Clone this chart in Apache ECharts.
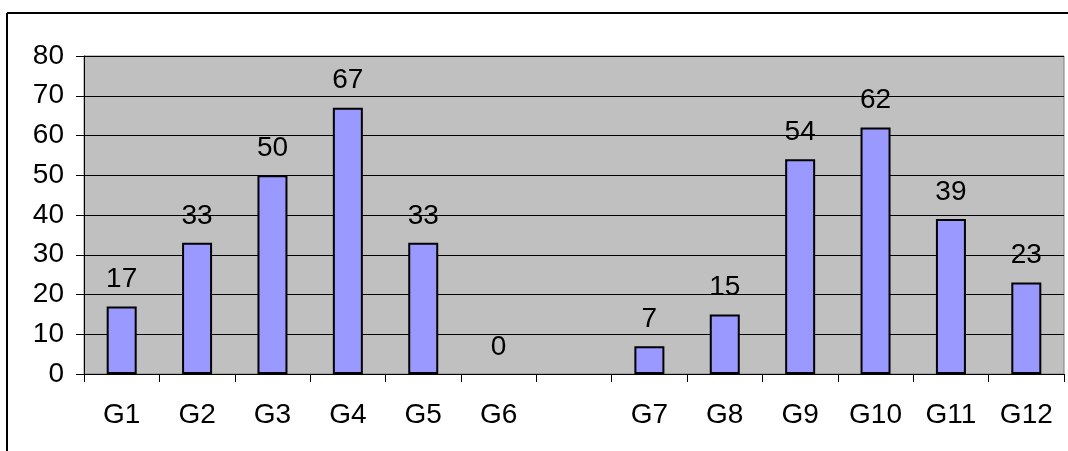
<!DOCTYPE html>
<html>
<head>
<meta charset="utf-8">
<title>G chart</title>
<style>
  * { margin: 0; padding: 0; }
  html, body { background: #fff; }
  #chart { width: 1068px; height: 451px; }
</style>
</head>
<body>
<div id="chart"></div>
<script src="https://cdn.jsdelivr.net/npm/echarts@6/dist/echarts.min.js"></script>
<script>
// categories (the empty one is the gap between G6 and G7)
const groups = ['G1', 'G2', 'G3', 'G4', 'G5', 'G6', '', 'G7', 'G8', 'G9', 'G10', 'G11', 'G12'];
const counts = [17, 33, 50, 67, 33, 0, '-', 7, 15, 54, 62, 39, 23];
const yTicks = [0, 10, 20, 30, 40, 50, 60, 70, 80];

const font = "'Liberation Sans', Arial, sans-serif";
const chart = echarts.init(document.getElementById('chart'), null, { renderer: 'canvas' });

// zero-height bars get no outline, like the original
const barData = counts.map(v => v === 0 ? { value: v, itemStyle: { borderWidth: 0 } } : v);

chart.setOption({
  animation: false,
  backgroundColor: '#fff',
  textStyle: { fontFamily: font, color: '#000' },
  grid: {
    left: 84, top: 56, right: 4, bottom: 77,
    show: true,
    backgroundColor: '#c0c0c0',
    borderColor: '#808080',
    borderWidth: 1
  },
  graphic: [
    { type: 'line', shape: { x1: 7, y1: 13, x2: 1068, y2: 13 }, style: { stroke: '#000', lineWidth: 2 } },
    { type: 'line', shape: { x1: 7, y1: 13, x2: 7, y2: 451 }, style: { stroke: '#000', lineWidth: 2 } }
  ],
  xAxis: {
    type: 'category',
    data: groups,
    boundaryGap: true,
    axisLine: { lineStyle: { color: '#000', width: 1 } },
    axisTick: { show: true, length: 8, lineStyle: { color: '#000' } },
    axisLabel: { fontSize: 28, color: '#000', margin: 27, fontFamily: font, interval: 0 },
    splitLine: { show: false }
  },
  yAxis: {
    type: 'value',
    min: yTicks[0],
    max: yTicks[yTicks.length - 1],
    interval: 10,
    axisLine: { show: true, lineStyle: { color: '#000', width: 1 } },
    axisTick: { show: true, length: 8, lineStyle: { color: '#000' } },
    axisLabel: { fontSize: 28, color: '#000', margin: 20, fontFamily: font },
    splitLine: { show: true, lineStyle: { color: '#000', width: 1 } }
  },
  series: [{
    type: 'bar',
    data: barData,
    barWidth: 30,
    itemStyle: { color: '#9999ff', borderColor: '#000', borderWidth: 2 },
    label: {
      show: true,
      position: 'top',
      distance: 13,
      fontSize: 28,
      color: '#000',
      fontFamily: font,
      formatter: '{c}'
    }
  }]
});
</script>
</body>
</html>
